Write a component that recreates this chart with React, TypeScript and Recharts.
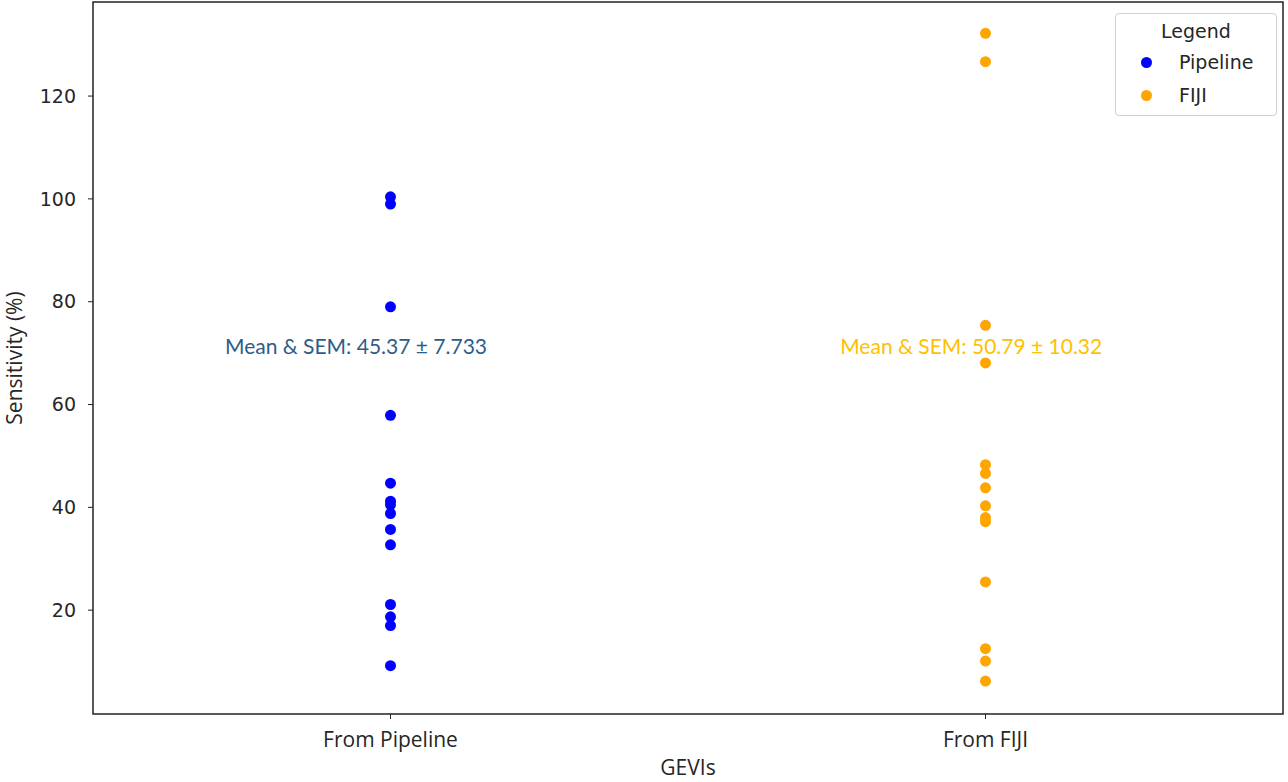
import React from 'react';
import {
  ScatterChart,
  Scatter,
  XAxis,
  YAxis,
  ReferenceArea,
  ReferenceDot,
  Label,
} from 'recharts';

const categories = ['From Pipeline', 'From FIJI'];
const seriesNames = ['Pipeline', 'FIJI'];
const seriesColors = ['#0000FF', '#FFA500'];
const pipelineValues = [100.4, 99.0, 79.0, 57.9, 44.7, 41.2, 40.5, 38.8, 35.7, 32.7, 21.1, 18.7, 17.0, 9.2];
const fijiValues = [132.2, 126.7, 75.4, 68.1, 48.3, 46.6, 43.8, 40.3, 38.0, 37.2, 25.5, 12.5, 10.1, 6.2];
const yTicks = [20, 40, 60, 80, 100, 120];
const meanLabels = ['Mean & SEM: 45.37 ± 7.733', 'Mean & SEM: 50.79 ± 10.32'];
const meanLabelX = [-0.058, 0.976];
const meanLabelY = 71.2;

const Y_MIN = -0.2;
const Y_MAX = 138.3;

const pipelineData = pipelineValues.map((v) => ({ x: 0, y: v }));
const fijiData = fijiValues.map((v) => ({ x: 1, y: v }));

const dot = (color: string) => (props: any) => (
  <circle cx={props.cx} cy={props.cy} r={5.5} fill={color} />
);

function LegendBox() {
  return (
    <div
      style={{
        position: 'absolute',
        left: 1115,
        top: 13,
        width: 162,
        height: 103,
        boxSizing: 'border-box',
        border: '1px solid #d0d0d0',
        borderRadius: 4,
        background: '#fff',
        fontFamily: 'DejaVu Sans, sans-serif',
        fontSize: 19,
        color: '#262626',
      }}
    >
      <div style={{ position: 'absolute', top: 6, left: 0, width: '100%', textAlign: 'center' }}>Legend</div>
      {seriesNames.map((name, i) => (
        <div key={name} style={{ position: 'absolute', top: 37 + i * 33, left: 25, display: 'flex', alignItems: 'center' }}>
          <span style={{ width: 11, height: 11, borderRadius: '50%', background: seriesColors[i], display: 'inline-block' }} />
          <span style={{ marginLeft: 27 }}>{name}</span>
        </div>
      ))}
    </div>
  );
}

export default function App() {
  return (
    <div style={{ position: 'absolute', left: 0, top: 0, width: 1288, height: 782, background: '#fff' }}>
      <ScatterChart width={1288} height={782} margin={{ top: 2, right: 5, bottom: 0, left: 0 }}>
        <XAxis
          type="number"
          dataKey="x"
          domain={[-0.5, 1.5]}
          ticks={[0, 1]}
          tickFormatter={(v: number) => categories[v]}
          axisLine={false}
          tickLine={{ stroke: '#222' }}
          tickSize={5}
          tickMargin={13}
          height={68}
          tick={{ fill: '#262626', fontSize: 21, fontFamily: 'Open Sans, sans-serif' }}
        >
          <Label value="GEVIs" position="center" dy={20} fill="#262626" fontSize={21} fontFamily="Open Sans, sans-serif" />
        </XAxis>
        <YAxis
          type="number"
          dataKey="y"
          domain={[Y_MIN, Y_MAX]}
          ticks={yTicks}
          axisLine={false}
          tickLine={{ stroke: '#222' }}
          tickSize={5}
          tickMargin={12}
          width={93}
          tick={{ fill: '#262626', fontSize: 19, fontFamily: 'DejaVu Sans, sans-serif' }}
        >
          <Label value="Sensitivity (%)" angle={-90} position="center" dx={-32} fill="#262626" fontSize={21} fontFamily="Open Sans, sans-serif" />
        </YAxis>
        <ReferenceArea x1={-0.5} x2={1.5} y1={Y_MIN} y2={Y_MAX} fill="none" stroke="#222" strokeWidth={1.5} ifOverflow="visible" />
        <Scatter name={seriesNames[0]} data={pipelineData} fill={seriesColors[0]} shape={dot(seriesColors[0])} isAnimationActive={false} />
        <Scatter name={seriesNames[1]} data={fijiData} fill={seriesColors[1]} shape={dot(seriesColors[1])} isAnimationActive={false} />
        {meanLabels.map((t, i) => (
          <ReferenceDot
            key={t}
            x={meanLabelX[i]}
            y={meanLabelY}
            r={0}
            stroke="none"
            fill="none"
            label={{
              value: t,
              position: 'center',
              fill: i === 0 ? '#2E5C8A' : '#FFC000',
              fontSize: 21,
              fontFamily: 'Lato, sans-serif',
            }}
          />
        ))}
      </ScatterChart>
      <LegendBox />
    </div>
  );
}
